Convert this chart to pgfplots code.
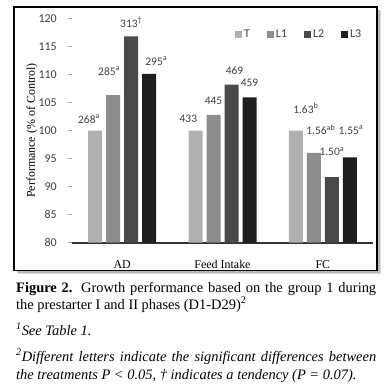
\documentclass[border=0pt]{standalone}
\usepackage{pgfplots}
\pgfplotsset{compat=1.18}
\usepackage{pgfplotstable}
\usepackage{fontspec}
\setmainfont{Liberation Serif}
\newfontfamily\calib{Carlito}
\definecolor{cT}{RGB}{176,176,178}
\definecolor{cL1}{RGB}{140,141,143}
\definecolor{cL2}{RGB}{74,74,74}
\definecolor{cL3}{RGB}{30,30,30}
\tikzset{lbl/.style={font=\calib\fontsize{11.5}{14}\selectfont, text=black!75, inner sep=0pt}}
\pgfplotstableread{
x y
0 100
1 100
2 100
}\datT
\pgfplotstableread{
x y
0 106.3
1 102.8
2 96.0
}\datLa
\pgfplotstableread{
x y
0 116.8
1 108.2
2 91.7
}\datLb
\pgfplotstableread{
x y
0 110.1
1 105.9
2 95.2
}\datLc
\begin{document}
\begin{tikzpicture}
\useasboundingbox[fill=white] (-72bp,-146.3bp) rectangle (315bp,242.7bp);
% frame with shadow
\fill[gray!30] (-54bp,-31.3bp) rectangle (309bp,231.7bp);
\fill[gray!55] (-55bp,-30.3bp) rectangle (307.5bp,232.7bp);
\filldraw[fill=white, draw=black, line width=1.1bp] (-58bp,-27.8bp) rectangle (305bp,235.7bp);
\begin{axis}[
  at={(0,0)}, anchor=south west,
  scale only axis, width=301bp, height=224.3bp,
  xmin=-0.5, xmax=2.5, ymin=80, ymax=120,
  ybar=4bp, bar width=14bp,
  axis lines=left, axis line style={-},
  x axis line style={draw=black!80, line width=1.6bp},
  y axis line style={draw=none},
  xtick={0,1,2}, xticklabels={AD, Feed Intake, FC},
  x tick style={draw=none},
  xticklabel style={font=\fontsize{12}{14}\selectfont, anchor=base, inner sep=0pt, yshift=-22bp},
  ytick={80,85,...,120},
  y tick style={draw=gray!70, line width=0.6bp},
  tick align=outside, major tick length=4bp,
  yticklabel style={font=\calib\fontsize{12}{14}\selectfont, text=black!75, inner sep=0pt, anchor=east, xshift=-11bp},
  /pgf/number format/assume math mode=true,
  ylabel={Performance (\% of Control)},
  every axis y label/.style={at={(axis description cs:-0.1329,0.5)}, rotate=90, anchor=center, font=\fontsize{12}{14}\selectfont},
  legend image code/.code={\fill[#1,draw=none] (0bp,-3.5bp) rectangle (7bp,3.5bp);},
  legend style={at={(0.5415,0.93)}, anchor=west, draw=none, fill=none, inner sep=0pt,
    font=\calib\fontsize{12}{14}\selectfont, text=black!75,
    /tikz/every even column/.append style={column sep=15bp}},
  legend columns=4,
  clip=false,
]
\addplot[fill=cT, draw=none] table {\datT};
\addplot[fill=cL1, draw=none] table {\datLa};
\addplot[fill=cL2, draw=none] table {\datLb};
\addplot[fill=cL3, draw=none] table {\datLc};
\legend{T,L1,L2,L3}
\node[lbl] at (axis cs:-0.33,102.05) {268\textsuperscript{a}};
\node[lbl] at (axis cs:-0.13,110.6) {285\textsuperscript{a}};
\node[lbl] at (axis cs:0.09,119.3) {313\textsuperscript{\textdagger}};
\node[lbl] at (axis cs:0.34,112.4) {295\textsuperscript{a}};
\node[lbl] at (axis cs:0.66,102.05) {433};
\node[lbl] at (axis cs:0.91,105.3) {445};
\node[lbl] at (axis cs:1.12,110.6) {469};
\node[lbl] at (axis cs:1.27,108.5) {459};
\node[lbl] at (axis cs:1.83,104.0) {1.63\textsuperscript{b}};
\node[lbl] at (axis cs:1.98,100.1) {1.56\textsuperscript{ab}};
\node[lbl] at (axis cs:2.28,100.1) {1.55\textsuperscript{a}};
\node[lbl] at (axis cs:2.09,96.2) {1.50\textsuperscript{a}};
\end{axis}
% caption
\node[anchor=base west, inner sep=0pt] at (-56bp,-49.3bp) {\fontsize{14.5}{17}\selectfont\makebox[360bp][s]{\textbf{Figure 2.} Growth performance based on the group 1 during}};
\node[anchor=base west, inner sep=0pt] at (-56bp,-66.3bp) {\fontsize{14.5}{17}\selectfont the prestarter I and II phases (D1-D29)\textsuperscript{2}};
\node[anchor=base west, inner sep=0pt] at (-56bp,-92.3bp) {\fontsize{14.5}{17}\selectfont\itshape\textsuperscript{1}See Table 1.};
\node[anchor=base west, inner sep=0pt] at (-56bp,-118.3bp) {\fontsize{14.5}{17}\selectfont\itshape\makebox[360bp][s]{\textsuperscript{2}Different letters indicate the significant differences between}};
\node[anchor=base west, inner sep=0pt] at (-56bp,-136.3bp) {\fontsize{14.5}{17}\selectfont\itshape the treatments P < 0.05, † indicates a tendency (P = 0.07).};
\end{tikzpicture}
\end{document}
